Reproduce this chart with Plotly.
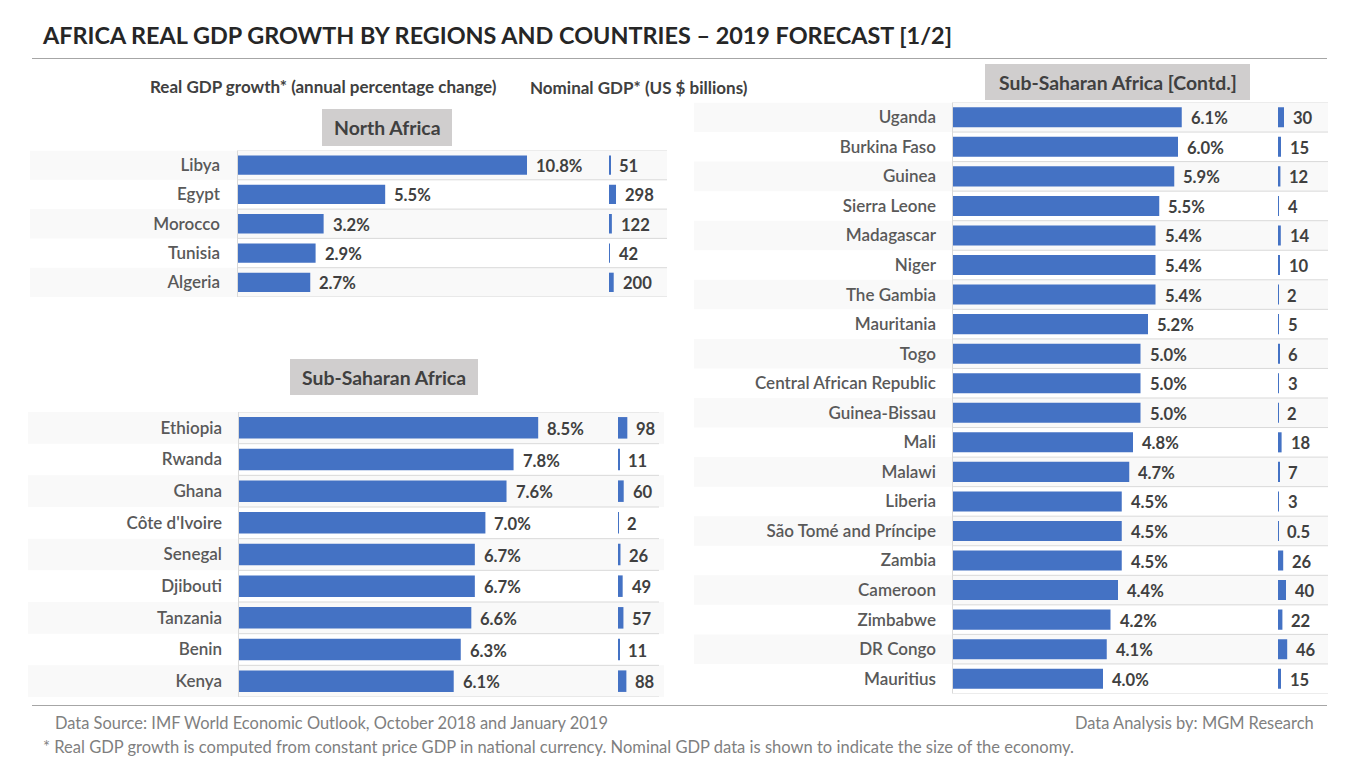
import plotly.graph_objects as go

W, H = 1368, 775

north_names = ["Libya", "Egypt", "Morocco", "Tunisia", "Algeria"]
north_growth = [10.8, 5.5, 3.2, 2.9, 2.7]
north_nominal = [51, 298, 122, 42, 200]

ssa1_names = ["Ethiopia", "Rwanda", "Ghana", "Côte d'Ivoire", "Senegal", "Djibouti", "Tanzania", "Benin", "Kenya"]
ssa1_growth = [8.5, 7.8, 7.6, 7.0, 6.7, 6.7, 6.6, 6.3, 6.1]
ssa1_nominal = [98, 11, 60, 2, 26, 49, 57, 11, 88]

ssa2_names = ["Uganda", "Burkina Faso", "Guinea", "Sierra Leone", "Madagascar", "Niger", "The Gambia", "Mauritania",
              "Togo", "Central African Republic", "Guinea-Bissau", "Mali", "Malawi", "Liberia",
              "São Tomé and Príncipe", "Zambia", "Cameroon", "Zimbabwe", "DR Congo", "Mauritius"]
ssa2_growth = [6.1, 6.0, 5.9, 5.5, 5.4, 5.4, 5.4, 5.2, 5.0, 5.0, 5.0, 4.8, 4.7, 4.5, 4.5, 4.5, 4.4, 4.2, 4.1, 4.0]
ssa2_nominal = [30, 15, 12, 4, 14, 10, 2, 5, 6, 3, 2, 18, 7, 3, 0.5, 26, 40, 22, 46, 15]

BLUE = "#4472C4"
FONT = "Lato"
LABEL = "#595959"
VALUE = "#404040"
GRID = "#d9d9d9"
STRIPE = "#f9f9f9"


def px(x):
    return x / W


def py(y):
    return 1 - y / H


panels = [
    dict(names=north_names, growth=north_growth, nominal=north_nominal, top=150.5, bot=297,
         gx=238, gscale=26.76, nx=609, nscale=1 / 42.5, gridend=667, stripe0=30, stripe1=667,
         stripes_first=0, gap=0.34, standoff=17),
    dict(names=ssa1_names, growth=ssa1_growth, nominal=ssa1_nominal, top=412, bot=697,
         gx=239, gscale=35.2, nx=618, nscale=1 / 10.5, gridend=659, stripe0=28, stripe1=664,
         stripes_first=0, gap=0.32, standoff=16),
    dict(names=ssa2_names, growth=ssa2_growth, nominal=ssa2_nominal, top=102.5, bot=693.5,
         gx=953, gscale=37.5, nx=1278, nscale=1 / 5.0, gridend=1328, stripe0=694, stripe1=1328,
         stripes_first=0, gap=0.32, standoff=16),
]

fig = go.Figure()
shapes, annotations = [], []
layout = {}
ax = 1
for p in panels:
    n = len(p["names"])
    dom_y = [py(p["bot"]), py(p["top"])]
    gk, nk = ax, ax + 1
    ax += 2
    gend = p["nx"] - 4
    nend = p["gridend"]
    for kind, k, x0, x1, scale, vals in (("g", gk, p["gx"], gend, p["gscale"], p["growth"]),
                                         ("n", nk, p["nx"], nend, p["nscale"], p["nominal"])):
        xa, ya = f"x{k}", f"y{k}"
        fig.add_trace(go.Bar(y=p["names"], x=vals, orientation="h", xaxis=xa, yaxis=ya,
                             marker=dict(color=BLUE, line=dict(width=0)), width=1 - p["gap"],
                             hoverinfo="skip", showlegend=False))
        layout[f"xaxis{k}"] = dict(domain=[px(x0), px(x1)], range=[0, (x1 - x0) / scale], visible=False,
                                   fixedrange=True, anchor=ya)
        ya_cfg = dict(domain=dom_y, range=[n - 0.5, -0.5], type="category", categoryorder="array",
                      categoryarray=p["names"], anchor=xa, showgrid=False, zeroline=False, showline=False,
                      ticks="", fixedrange=True)
        if kind == "g":
            ya_cfg.update(showticklabels=True, ticklabelstandoff=p["standoff"],
                          tickfont=dict(family=FONT, size=17, color=LABEL, weight=600))
        else:
            ya_cfg.update(showticklabels=False)
        layout[f"yaxis{k}"] = ya_cfg
        for name, v in zip(p["names"], vals):
            text = f"{v:.1f}%" if kind == "g" else f"{v:g}"
            annotations.append(dict(x=v, y=name, xref=xa, yref=ya, text=text, showarrow=False,
                                    xanchor="left", yanchor="middle", xshift=7 if kind == "g" else 7, yshift=-1,
                                    font=dict(family=FONT, size=16.6, color=VALUE, weight=700)))
    ref = f"y{gk}"
    for i in range(n):
        if i % 2 == p["stripes_first"]:
            shapes.append(dict(type="rect", xref="paper", yref=ref, x0=px(p["stripe0"]), x1=px(p["stripe1"]),
                               y0=i - 0.5, y1=i + 0.5, fillcolor=STRIPE, line=dict(width=0), layer="below"))
    for i in range(n + 1):
        shapes.append(dict(type="line", xref="paper", yref=ref, x0=px(p["gx"] - 1), x1=px(p["gridend"]),
                           y0=i - 0.5, y1=i - 0.5, line=dict(color=GRID, width=1), layer="below"))
    shapes.append(dict(type="line", xref="paper", yref=ref, x0=px(p["gx"] - 0.5), x1=px(p["gx"] - 0.5),
                       y0=-0.5, y1=n - 0.5, line=dict(color=GRID, width=1), layer="below"))

# separators
for y in (58.5, 705.5):
    shapes.append(dict(type="line", xref="paper", yref="paper", x0=px(32), x1=px(1327), y0=py(y), y1=py(y),
                       line=dict(color="#a6a6a6", width=1), layer="below"))

# region header boxes
headers = [("North Africa", 322, 452, 109, 146), ("Sub-Saharan Africa", 290, 478, 359, 395),
           ("Sub-Saharan Africa [Contd.]", 985, 1250, 64, 100)]
for text, x0, x1, y0, y1 in headers:
    shapes.append(dict(type="rect", xref="paper", yref="paper", x0=px(x0), x1=px(x1), y0=py(y0), y1=py(y1),
                       fillcolor="#d0cece", line=dict(width=0), layer="below"))
    annotations.append(dict(x=px((x0 + x1) / 2), y=py((y0 + y1) / 2), xref="paper", yref="paper", text=text,
                            showarrow=False, xanchor="center", yanchor="middle",
                            font=dict(family=FONT, size=19.4, color=VALUE, weight=700)))


def note(text, x, y, size, color, weight=400, anchor="left"):
    annotations.append(dict(x=px(x), y=py(y), xref="paper", yref="paper", text=text, showarrow=False,
                            xanchor=anchor, yanchor="middle", xshift=-3 if anchor == "left" else 3,
                            font=dict(family=FONT, size=size, color=color, weight=weight)))


note("AFRICA REAL GDP GROWTH BY REGIONS AND COUNTRIES – 2019 FORECAST [1/2]", 43, 35, 23.4, "#262626", 700)
note("Real GDP growth* (annual percentage change)", 151, 86, 17, VALUE, 700)
note("Nominal GDP* (US $ billions)", 531, 88, 17, VALUE, 700)
note("Data Source: IMF World Economic Outlook, October 2018 and January 2019", 56, 723, 16.45, "#7f7f7f")
note("Data Analysis by: MGM Research", 1313, 723, 16.45, "#7f7f7f", anchor="right")
note("* Real GDP growth is computed from constant price GDP in national currency. Nominal GDP data is shown "
     "to indicate the size of the economy.", 44, 747, 16.55, "#7f7f7f")

fig.update_layout(width=W, height=H, margin=dict(l=0, r=0, t=0, b=0), paper_bgcolor="white", plot_bgcolor="rgba(0,0,0,0)",
                  barmode="overlay", shapes=shapes, annotations=annotations, font=dict(family=FONT),
                  showlegend=False, **layout)
fig.write_html("out.html", config={"displayModeBar": False},
               post_script="document.body.style.margin='0';document.body.style.overflow='hidden';")
